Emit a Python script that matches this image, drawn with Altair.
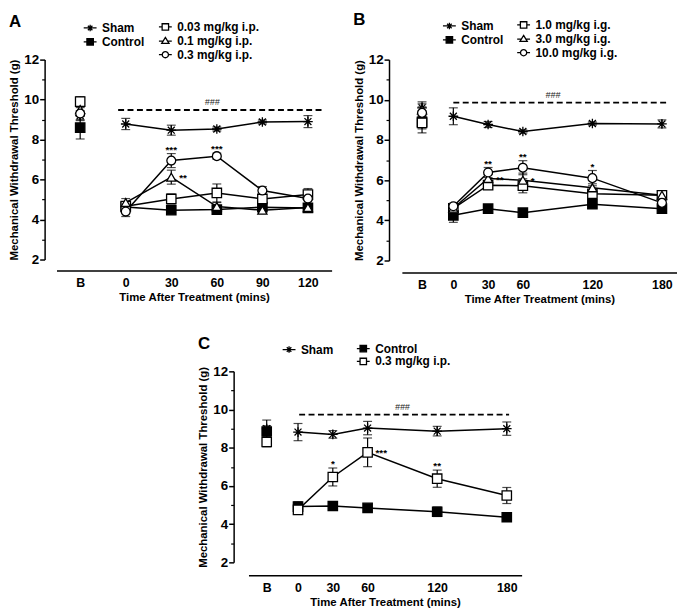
import altair as alt
import pandas as pd

FONT = "Liberation Sans"
ASTERISK = "M-1,0L1,0M0,-1L0,1M-0.72,-0.72L0.72,0.72M-0.72,0.72L0.72,-0.72"

# ---------------- Panel A ----------------
A_X = [-30, 0, 30, 60, 90, 120]
A_GROUPS = ["Sham", "Control", "0.03 mg/kg i.p.", "0.1 mg/kg i.p.", "0.3 mg/kg i.p."]
A_MEAN = {
    "Sham": [9.2, 8.78, 8.47, 8.53, 8.88, 8.9],
    "Control": [8.6, 4.63, 4.47, 4.5, 4.62, 4.58],
    "0.03 mg/kg i.p.": [9.9, 4.67, 5.03, 5.33, 5.03, 5.25],
    "0.1 mg/kg i.p.": [9.5, 4.85, 6.12, 4.65, 4.47, 4.6],
    "0.3 mg/kg i.p.": [9.3, 4.4, 6.95, 7.17, 5.45, 5.05],
}
A_SEM = {
    "Sham": [0.25, 0.28, 0.25, 0.1, 0.1, 0.3],
    "Control": [0.57, 0.1, 0.1, 0.1, 0.1, 0.1],
    "0.03 mg/kg i.p.": [0.25, 0.2, 0.25, 0.45, 0.15, 0.3],
    "0.1 mg/kg i.p.": [0.3, 0.2, 0.35, 0.2, 0.1, 0.15],
    "0.3 mg/kg i.p.": [0.3, 0.25, 0.35, 0.15, 0.2, 0.3],
}
A_STARS = [(30, "0.3 mg/kg i.p.", "***", "above"),
           (60, "0.3 mg/kg i.p.", "***", "above"),
           (30, "0.1 mg/kg i.p.", "**", "right")]
A_DASH = {"x0": -5, "x1": 130, "y": 9.48, "xt": 57, "label": "###"}
A_TICKS = [-30, 0, 30, 60, 90, 120]

# ---------------- Panel B ----------------
B_X = [-27, 0, 30, 60, 120, 180]
B_GROUPS = ["Sham", "Control", "1.0 mg/kg i.g.", "3.0 mg/kg i.g.", "10.0 mg/kg i.g."]
B_MEAN = {
    "Sham": [9.6, 9.18, 8.77, 8.42, 8.82, 8.8],
    "Control": [8.9, 4.25, 4.58, 4.38, 4.8, 4.58],
    "1.0 mg/kg i.g.": [8.85, 4.6, 5.75, 5.72, 5.32, 5.25],
    "3.0 mg/kg i.g.": [9.5, 4.6, 6.08, 6.0, 5.62, 5.25],
    "10.0 mg/kg i.g.": [9.35, 4.7, 6.38, 6.62, 6.1, 4.87],
}
B_SEM = {
    "Sham": [0.3, 0.42, 0.15, 0.08, 0.08, 0.2],
    "Control": [0.55, 0.35, 0.1, 0.1, 0.1, 0.1],
    "1.0 mg/kg i.g.": [0.3, 0.2, 0.2, 0.35, 0.15, 0.2],
    "3.0 mg/kg i.g.": [0.3, 0.2, 0.2, 0.35, 0.2, 0.15],
    "10.0 mg/kg i.g.": [0.3, 0.15, 0.25, 0.35, 0.38, 0.15],
}
B_STARS = [(30, "10.0 mg/kg i.g.", "**", "above"),
           (30, "3.0 mg/kg i.g.", "**", "right"),
           (60, "10.0 mg/kg i.g.", "**", "above"),
           (60, "3.0 mg/kg i.g.", "*", "right"),
           (120, "10.0 mg/kg i.g.", "*", "above")]
B_DASH = {"x0": 0, "x1": 184, "y": 9.86, "xt": 86, "label": "###"}
B_TICKS = [-27, 0, 30, 60, 120, 180]

# ---------------- Panel C ----------------
C_X = [-27, 0, 30, 60, 120, 180]
C_GROUPS = ["Sham", "Control", "0.3 mg/kg i.p."]
C_MEAN = {
    "Sham": [9.0, 8.82, 8.7, 9.03, 8.87, 9.0],
    "Control": [8.85, 4.92, 4.95, 4.85, 4.65, 4.36],
    "0.3 mg/kg i.p.": [8.3, 4.75, 6.47, 7.76, 6.38, 5.5],
}
C_SEM = {
    "Sham": [0.45, 0.45, 0.2, 0.35, 0.25, 0.35],
    "Control": [0.3, 0.25, 0.15, 0.1, 0.25, 0.1],
    "0.3 mg/kg i.p.": [0.25, 0.15, 0.47, 0.75, 0.45, 0.42],
}
C_STARS = [(30, "0.3 mg/kg i.p.", "*", "above"),
           (60, "0.3 mg/kg i.p.", "***", "right"),
           (120, "0.3 mg/kg i.p.", "**", "above")]
C_DASH = {"x0": 1, "x1": 182, "y": 9.73, "xt": 90, "label": "###"}
C_TICKS = [-27, 0, 30, 60, 120, 180]

Y_MAJOR = [2, 4, 6, 8, 10, 12]
Y_MINOR = [3, 5, 7, 9, 11]

# legend glyphs: the marker with a short line through it
STUBS = "M-1.5,0L-0.75,0M0.75,0L1.5,0"
LEG_SHAPE = {
    "sham": "M-1.5,0L1.5,0M0,-0.75L0,0.75M-0.53,-0.53L0.53,0.53M-0.53,0.53L0.53,-0.53",
    "control": "M-0.75,-0.75L0.75,-0.75L0.75,0.75L-0.75,0.75Z" + STUBS,
    "d1": "M-0.75,-0.75L0.75,-0.75L0.75,0.75L-0.75,0.75Z" + STUBS,
    "d2": "M0,-0.8L0.85,0.6L-0.85,0.6ZM-1.5,0.05L-0.5,0.05M0.5,0.05L1.5,0.05",
    "d3": "M0.72,0A0.72,0.72 0 1,1 -0.72,0A0.72,0.72 0 1,1 0.72,0Z" + STUBS,
}

# marker styles (by role)
STYLE = {
    "sham": (ASTERISK, "black", 95),
    "control": ("square", "black", 90),
    "d1": ("square", "white", 90),
    "d2": ("triangle-up", "white", 85),
    "d3": ("circle", "white", 80),
}


def axis_common():
    return dict(domainColor="black", domainWidth=1.5, tickColor="black", tickWidth=1.5,
                labelFont=FONT, labelFontWeight="bold", labelColor="black",
                titleFont=FONT, titleFontSize=11.5, titleFontWeight="bold", titleColor="black",
                grid=False)


def panel(letter, xs, groups, roles, means, sems, stars, dash, ticks, xdomain,
          width, height, xoff, yoff, legend_pos):
    rows = []
    for g in groups:
        for x, m, s in zip(xs, means[g], sems[g]):
            rows.append({"x": x, "group": g, "mean": m, "lo": m - s, "hi": m + s})
    df = pd.DataFrame(rows)
    xscale = alt.Scale(domain=xdomain, nice=False, zero=False)
    yscale = alt.Scale(domain=[2, 12], nice=False, zero=False)
    xaxis = alt.Axis(values=ticks, labelExpr="datum.value < 0 ? 'B' : datum.label",
                     title="Time After Treatment (mins)", offset=xoff, ticks=False, orient="bottom",
                     labelPadding=6, labelFontSize=12.5, titlePadding=3, **axis_common())
    yaxis = alt.Axis(values=Y_MAJOR, title="Mechanical Withdrawal Threshold (g)", orient="left",
                     offset=yoff, tickSize=5, labelPadding=1, labelFontSize=13.5, titlePadding=4,
                     **axis_common())
    yminor = alt.Axis(values=Y_MINOR, labels=False, domain=False, title=None, orient="left",
                      offset=yoff, tickSize=3, tickColor="black", tickWidth=1.2, grid=False)

    X = lambda: alt.X("x:Q", scale=xscale, axis=xaxis)

    base = alt.Chart(df)
    lines = base.transform_filter("datum.x >= 0").mark_line(color="black", strokeWidth=1.5).encode(
        x=X(),
        y=alt.Y("mean:Q", scale=yscale, axis=yaxis),
        detail="group:N")
    err = base.mark_rule(color="black", strokeWidth=1.2).encode(
        x=X(), y=alt.Y("lo:Q", scale=yscale, axis=yminor), y2="hi:Q")
    caps = base.transform_fold(["lo", "hi"], as_=["k", "v"]).mark_tick(
        orient="horizontal", size=9, thickness=1.2, color="black").encode(
        x=X(), y=alt.Y("v:Q", scale=yscale, axis=None))

    ddf = pd.DataFrame([dash])
    drule = alt.Chart(ddf).mark_rule(strokeDash=[6, 3.5], strokeWidth=1.8, color="black").encode(
        x=alt.X("x0:Q", scale=xscale, axis=xaxis), x2="x1:Q",
        y=alt.Y("y:Q", scale=yscale, axis=None))
    dtext = alt.Chart(ddf).mark_text(font=FONT, fontSize=9, fontStyle="italic", fill="#222", dy=-8).encode(
        x=alt.X("xt:Q", scale=xscale, axis=xaxis), y=alt.Y("y:Q", scale=yscale, axis=None),
        text="label:N")

    layers = [lines, err, caps, drule, dtext]
    for g in groups:
        shape, fill, size = STYLE[roles[g]]
        lx, ly = legend_pos[g]
        # data markers (no legend)
        layers.append(
            base.transform_filter(alt.datum.group == g).mark_point(
                size=size, fill=fill, stroke="black", filled=False, opacity=1, strokeWidth=1.3
            ).encode(
                x=X(), y=alt.Y("mean:Q", scale=yscale, axis=None),
                shape=alt.Shape("group:N", scale=alt.Scale(domain=[g], range=[shape]), legend=None),
            )
        )
        # legend entry only (no marks drawn)
        leg = alt.Legend(orient="none", legendX=lx, legendY=ly, title=None,
                         labelFont=FONT, labelFontSize=12, labelFontWeight="bold",
                         labelColor="black", symbolSize=75, symbolStrokeWidth=1.3,
                         labelOffset=6, padding=0)
        layers.append(
            base.transform_filter("false").mark_point(
                size=size, filled=False, opacity=1, strokeWidth=1.3
            ).encode(
                x=X(), y=alt.Y("mean:Q", scale=yscale, axis=None),
                shape=alt.Shape("group:N", scale=alt.Scale(domain=[g], range=[LEG_SHAPE[roles[g]]]),
                                legend=leg),
                stroke=alt.Stroke("group:N", scale=alt.Scale(domain=[g], range=["black"]), legend=leg),
                fill=alt.Fill("group:N", scale=alt.Scale(domain=[g], range=[fill]), legend=leg),
            )
        )

    srows = []
    for (sx, sg, stxt, pos) in stars:
        i = xs.index(sx)
        m = means[sg][i]
        s = sems[sg][i]
        srows.append({"x": sx, "y": (m + s) if pos == "above" else m, "t": stxt, "pos": pos})
    sdf = pd.DataFrame(srows)
    above = alt.Chart(sdf).transform_filter("datum.pos == 'above'").mark_text(
        font=FONT, fontSize=10, fontWeight="bold", fill="black", baseline="alphabetic", dy=-1).encode(
        x=X(), y=alt.Y("y:Q", scale=yscale, axis=None), text="t:N")
    right = alt.Chart(sdf).transform_filter("datum.pos == 'right'").mark_text(
        font=FONT, fontSize=10, fontWeight="bold", fill="black", align="left", baseline="middle",
        dx=8, dy=1).encode(
        x=X(), y=alt.Y("y:Q", scale=yscale, axis=None), text="t:N")
    layers += [above, right]

    return alt.layer(*layers).resolve_scale(
        shape="independent", stroke="independent", fill="independent"
    ).resolve_axis(y="independent").properties(
        width=width, height=height,
        title=alt.TitleParams(letter, anchor="start", frame="bounds", fontSize=17, fontWeight="bold",
                              font=FONT, color="black", offset=-10))


ROLES_A = dict(zip(A_GROUPS, ["sham", "control", "d1", "d2", "d3"]))
ROLES_B = dict(zip(B_GROUPS, ["sham", "control", "d1", "d2", "d3"]))
ROLES_C = dict(zip(C_GROUPS, ["sham", "control", "d1"]))

RS = 14
LEG_A = {A_GROUPS[0]: (28, -38), A_GROUPS[1]: (28, -38 + RS),
         A_GROUPS[2]: (104, -39), A_GROUPS[3]: (104, -39 + RS), A_GROUPS[4]: (104, -39 + 2 * RS)}
LEG_B = {B_GROUPS[0]: (42, -40), B_GROUPS[1]: (42, -40 + RS),
         B_GROUPS[2]: (117, -41), B_GROUPS[3]: (117, -41 + RS), B_GROUPS[4]: (117, -41 + 2 * RS)}
LEG_C = {C_GROUPS[0]: (35, -28), C_GROUPS[1]: (110, -29), C_GROUPS[2]: (110, -29 + 13)}

pA = panel("A", A_X, A_GROUPS, ROLES_A, A_MEAN, A_SEM, A_STARS, A_DASH, A_TICKS, [-45.6, 135.6],
           278, 202, 11, 12, LEG_A)
pB = panel("B", B_X, B_GROUPS, ROLES_B, B_MEAN, B_SEM, B_STARS, B_DASH, B_TICKS, [-44.4, 193],
           278, 203, 12, 13, LEG_B)
pC = panel("C", C_X, C_GROUPS, ROLES_C, C_MEAN, C_SEM, C_STARS, C_DASH, C_TICKS, [-42.7, 192.8],
           276, 193, 13, 15, LEG_C)

spacer = alt.Chart(pd.DataFrame({"a": [0]})).mark_point(opacity=0, size=1).encode(
    x=alt.value(0), y=alt.value(0)).properties(width=100, height=193)

row1 = alt.hconcat(pA, pB, spacing=71, bounds="flush")
row2 = alt.hconcat(spacer, pC, spacing=94, bounds="flush")

chart = alt.vconcat(row1, row2, spacing=30).properties(padding=0).configure_view(stroke=None)

chart.save("out.html", embed_options={"renderer": "svg", "actions": False})
